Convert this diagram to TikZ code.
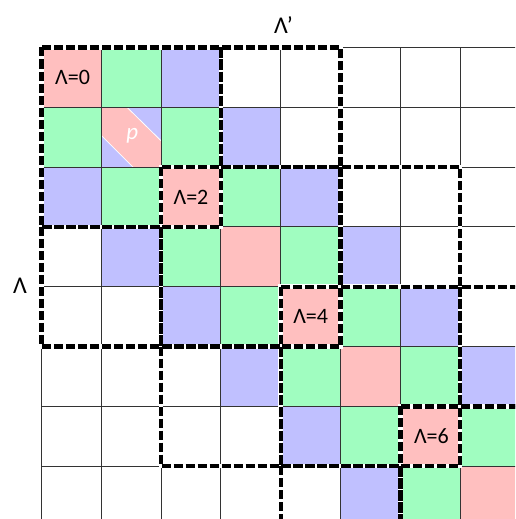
\documentclass[tikz,border=0pt]{standalone}
\usepackage{fontspec}
\setmainfont{Carlito}
\definecolor{cpink}{HTML}{FFBFBF}
\definecolor{cgreen}{HTML}{A0FDC0}
\definecolor{cblue}{HTML}{C0C0FF}
\begin{document}
\begin{tikzpicture}[x=1pt,y=-1pt,
  gridline/.style={draw=black!80, line width=0.9pt},
  blockunder/.style={draw=white, line width=4.6pt},
  blockline/.style={draw=black, line width=4.4pt, dash pattern=on 9pt off 3pt},
  celllabel/.style={font=\fontsize{22}{22}\selectfont, inner sep=0pt, text=black},
  axislabel/.style={font=\fontsize{24}{24}\selectfont, inner sep=0pt, text=black}]
\useasboundingbox (0,0) rectangle (515,519);
\clip (0,0) rectangle (515,519);
\fill[white] (0,0) rectangle (515,519);
\node[axislabel] (lamprime) at (283.5,25) {Λ\char39};
\node[axislabel] (lam) at (20,286) {Λ};
\begin{scope}[shift={(41.5,47.5)}, x=59.8pt, y=-59.8pt]
  % cell fills
  \foreach \r in {0,...,8}{
    \foreach \c in {0,...,8}{
      \pgfmathtruncatemacro\dd{abs(\r-\c)}
      \ifnum\dd=0 \fill[cpink] (\c,\r) rectangle ++(1,1); \fi
      \ifnum\dd=1 \fill[cgreen] (\c,\r) rectangle ++(1,1); \fi
      \ifnum\dd=2 \fill[cblue] (\c,\r) rectangle ++(1,1); \fi
    }
  }
  % special cell p
  \fill[cblue] (1.43,1) -- (2,1) -- (2,1.56) -- cycle;
  \fill[cblue] (1,1.47) -- (1,2) -- (1.53,2) -- cycle;
  \draw[white, line width=0.8pt] (1.43,1) -- (2,1.56);
  \draw[white, line width=0.8pt] (1,1.47) -- (1.53,2);
  % grid
  \foreach \i in {0,...,9}{
    \draw[gridline] (\i,0) -- (\i,9);
    \draw[gridline] (0,\i) -- (9,\i);
  }
  % dashed blocks
  \foreach \a/\b/\cc/\dd in {0/0/3/3, 2/2/5/5, 4/4/7/7, 6/6/9/9, 3/0/5/2, 5/2/7/4, 7/4/9/6, 0/3/2/5, 2/5/4/7, 4/7/6/9}{
    \draw[blockunder] (\a,\b) rectangle (\cc,\dd);
  }
  \foreach \a/\b/\cc/\dd in {0/0/3/3, 2/2/5/5, 4/4/7/7, 6/6/9/9, 3/0/5/2, 5/2/7/4, 7/4/9/6, 0/3/2/5, 2/5/4/7, 4/7/6/9}{
    \draw[blockline] (\a,\b) rectangle (\cc,\dd);
  }
  % labels
  \node[celllabel] (l0) at (0.52,0.5) {Λ=0};
  \node[celllabel] (l2) at (2.5,2.5) {Λ=2};
  \node[celllabel] (l4) at (4.5,4.5) {Λ=4};
  \node[celllabel] (l6) at (6.52,6.5) {Λ=6};
  \node[celllabel, text=white, font=\fontsize{23}{23}\selectfont\itshape] (pp) at (1.52,1.47) {p};
\end{scope}
\end{tikzpicture}
\end{document}
